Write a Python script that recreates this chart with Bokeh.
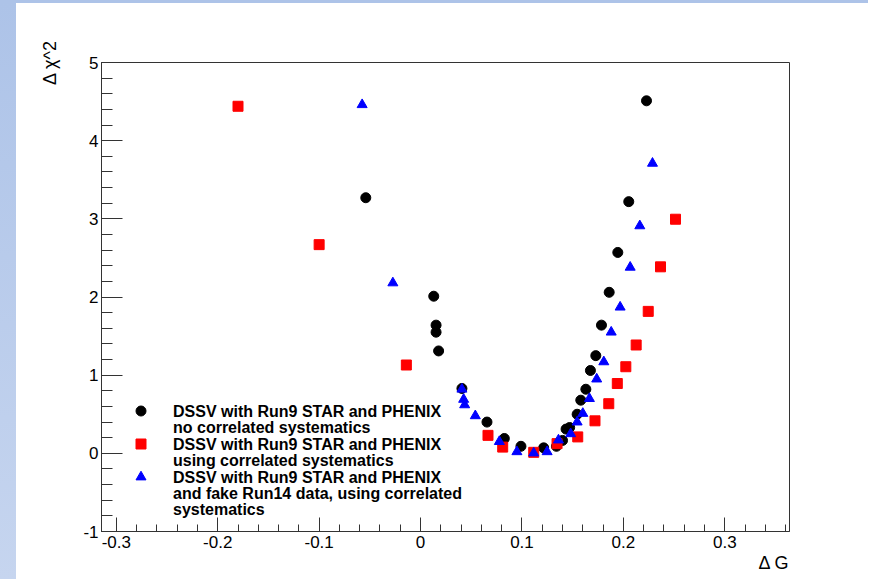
from bokeh.plotting import figure
from bokeh.models import (Range1d, FixedTicker, Legend, LegendItem, Title, Spacer)
from bokeh.layouts import row, column
from bokeh.embed import file_html
from bokeh.resources import INLINE

# ---- data ----
no_corr_dg = [-0.054, 0.013, 0.0153, 0.0153, 0.0178, 0.0408, 0.0655, 0.0826, 0.099,
              0.1214, 0.134, 0.140, 0.1435, 0.147, 0.1544, 0.158, 0.163, 0.1675,
              0.1728, 0.1784, 0.186, 0.1945, 0.2053, 0.2228]
no_corr_chi2 = [3.27, 2.01, 1.64, 1.55, 1.31, 0.83, 0.40, 0.19, 0.09,
                0.07, 0.09, 0.165, 0.31, 0.33, 0.50, 0.68, 0.82, 1.06,
                1.25, 1.64, 2.06, 2.57, 3.22, 4.51]

corr_dg = [-0.180, -0.100, -0.014, 0.0665, 0.081, 0.1116, 0.1346, 0.155, 0.172,
           0.1856, 0.194, 0.2024, 0.2126, 0.2245, 0.2366, 0.2514]
corr_chi2 = [4.44, 2.67, 1.13, 0.23, 0.08, 0.013, 0.124, 0.21, 0.416,
             0.635, 0.893, 1.108, 1.386, 1.816, 2.386, 2.995]

fake_dg = [-0.0576, -0.0273, 0.0408, 0.0425, 0.0435, 0.054, 0.0777, 0.095, 0.1116,
           0.1248, 0.136, 0.148, 0.1544, 0.160, 0.1665, 0.1737, 0.1807, 0.188,
           0.1968, 0.2067, 0.2162, 0.2287]
fake_chi2 = [4.46, 2.18, 0.82, 0.69, 0.62, 0.48, 0.15, 0.02, 0.004,
             0.02, 0.17, 0.25, 0.40, 0.51, 0.70, 0.95, 1.17, 1.55,
             1.87, 2.38, 2.91, 3.71]

legend_lines = [
    "DSSV with Run9 STAR and PHENIX",
    "no correlated systematics",
    "DSSV with Run9 STAR and PHENIX",
    "using correlated systematics",
    "DSSV with Run9 STAR and PHENIX",
    "and fake Run14 data, using correlated",
    "systematics",
]

x_ticks = [-0.3, -0.2, -0.1, 0.0, 0.1, 0.2, 0.3]
x_tick_labels = ["-0.3", "-0.2", "-0.1", "0", "0.1", "0.2", "0.3"]
y_ticks = [-1, 0, 1, 2, 3, 4, 5]
y_tick_labels = ["-1", "0", "1", "2", "3", "4", "5"]
x_title = "\u0394 G"
y_title = "\u0394 \u03c7^2"

FONT = "Liberation Sans"
AXC = "#333333"
# screen offsets (px above the frame bottom) of the legend text rows
LEGEND_ROW_Y = [110, 94, 77, 61, 44, 28, 12]

p = figure(width=852, height=576, output_backend="svg", toolbar_location=None,
           x_range=Range1d(-0.3146, 0.3638), y_range=Range1d(-1, 5),
           min_border_left=85, min_border_right=79, min_border_top=59, min_border_bottom=48)
p.background_fill_color = "white"
p.border_fill_color = "white"
p.outline_line_color = AXC
p.outline_line_width = 1
p.grid.visible = False

x_minor = [round(-0.3 + 0.02 * i, 4) for i in range(34)]
y_minor = [round(-1 + 0.2 * i, 4) for i in range(31)]
p.xaxis.ticker = FixedTicker(ticks=x_ticks, minor_ticks=x_minor)
p.yaxis.ticker = FixedTicker(ticks=y_ticks, minor_ticks=y_minor)
p.xaxis.major_label_overrides = {t: s for t, s in zip(x_ticks, x_tick_labels)}
p.yaxis.major_label_overrides = {t: s for t, s in zip(y_ticks, y_tick_labels)}

for ax in (p.xaxis[0], p.yaxis[0]):
    ax.axis_line_color = AXC
    ax.major_tick_line_color = AXC
    ax.minor_tick_line_color = AXC
    ax.major_tick_out = 0
    ax.minor_tick_out = 0
    ax.major_label_text_font = FONT
    ax.major_label_text_font_size = "17px"
    ax.major_label_text_color = "black"
p.xaxis.major_tick_in = 14
p.xaxis.minor_tick_in = 7
p.yaxis.major_tick_in = 21
p.yaxis.minor_tick_in = 11
p.xaxis.major_label_standoff = 4
p.yaxis.major_label_standoff = 3

r1 = p.scatter(no_corr_dg, no_corr_chi2, marker="circle", size=10, color="black")
r2 = p.scatter(corr_dg, corr_chi2, marker="square", size=10, color="#ff0000")
r3 = p.scatter(fake_dg, fake_chi2, marker="triangle", size=10, color="#0000ff")


def style_legend(lg):
    lg.border_line_color = None
    lg.background_fill_alpha = 0
    lg.padding = 0
    lg.margin = 0
    lg.label_text_font = FONT
    lg.label_text_font_style = "bold"
    lg.label_text_font_size = "16px"
    lg.label_text_color = "black"
    lg.label_text_baseline = "middle"


# marker column of the legend
marker_legend = Legend(items=[LegendItem(label=" ", renderers=[r]) for r in (r1, r2, r3)],
                       location=(27, 42), orientation="vertical")
style_legend(marker_legend)
marker_legend.glyph_width = 25
marker_legend.glyph_height = 25
marker_legend.spacing = 8
marker_legend.label_standoff = 0
marker_legend.label_height = 16
p.add_layout(marker_legend, "center")

# text rows of the legend
for line, yoff in zip(legend_lines, LEGEND_ROW_Y):
    lg = Legend(items=[LegendItem(label=line, renderers=[])], location=(71, yoff))
    style_legend(lg)
    lg.glyph_width = 1
    lg.glyph_height = 16
    lg.label_height = 16
    lg.label_standoff = 0
    p.add_layout(lg, "center")

# y-axis title, aligned to the top of the axis
ya = p.yaxis[0]
aligned = False
for val in ("end", "right"):
    try:
        ya.axis_label_align = val
        aligned = True
        break
    except Exception:
        pass
if aligned:
    ya.axis_label = y_title
    ya.axis_label_text_font = FONT
    ya.axis_label_text_font_size = "18px"
    ya.axis_label_text_font_style = "normal"
    ya.axis_label_text_color = "black"
    ya.axis_label_standoff = 20
else:
    p.add_layout(Title(text=y_title, align="right", text_font=FONT, text_font_size="18px",
                       text_font_style="normal", text_color="black", standoff=10), "left")

p.add_layout(Title(text=x_title, align="right", text_font=FONT, text_font_size="18px",
                   text_font_style="normal", text_color="black", standoff=0), "below")

top_strip = Spacer(width=868, height=3, styles={"background": "#adc3e8"})
left_strip = Spacer(width=16, height=576,
                    styles={"background": "linear-gradient(#adc3e8, #c6d5ef)"})
layout = column(top_strip, row(left_strip, p))

open("out.html", "w").write(file_html(layout, INLINE))
